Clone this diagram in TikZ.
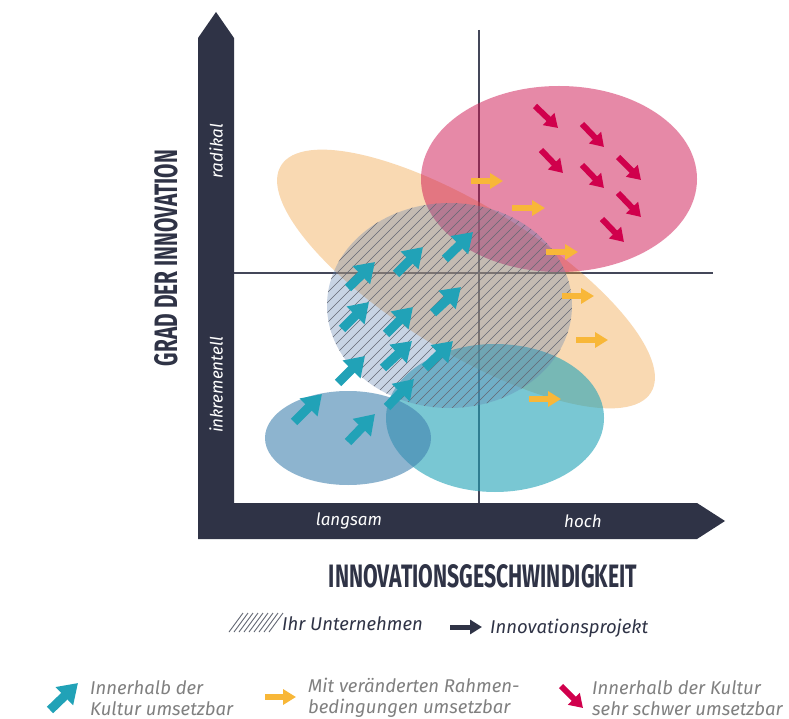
\documentclass[tikz,border=0pt]{standalone}
\usepackage{fontspec}
\setmainfont{Fira Sans}
\usetikzlibrary{arrows.meta}
\definecolor{navy}{HTML}{2F3346}
\definecolor{tealc}{RGB}{33,162,183}
\definecolor{steelc}{RGB}{65,130,175}
\definecolor{pinkc}{RGB}{207,21,81}
\definecolor{pinkarrow}{RGB}{208,0,76}
\definecolor{orangefill}{RGB}{240,160,64}
\definecolor{orangearrow}{RGB}{248,183,56}
\definecolor{hatchfill}{RGB}{98,132,178}
\definecolor{hatchline}{RGB}{100,104,116}
\definecolor{legendgrey}{RGB}{128,128,128}
\tikzset{
  teal arrow/.style={draw=tealc, line width=9pt, -{Triangle[width=24pt,length=19pt]}},
  pink arrow/.style={draw=pinkarrow, line width=6pt, -{Triangle[width=16pt,length=13pt]}},
  orange arrow/.style={draw=orangearrow, line width=5.5pt, -{Triangle[width=15pt,length=13pt]}},
  dark arrow/.style={draw=navy, line width=5pt, -{Triangle[width=14pt,length=12pt]}},
  quadline/.style={draw=navy!90, line width=1.1pt},
  axislabel/.style={text=white, font=\itshape\fontsize{17}{17}\selectfont, inner sep=0pt},
  legendtext/.style={text=legendgrey, font=\itshape\fontsize{18.5}{21}\selectfont, align=left, anchor=west, inner sep=0pt},
  legend2text/.style={text=navy, font=\itshape\fontsize{18.5}{18}\selectfont, anchor=west, inner sep=0pt},
}
\begin{document}
\begin{tikzpicture}[x=1pt,y=-1pt]
\useasboundingbox[fill=white] (0,0) rectangle (789,719);

% quadrant lines (below the translucent areas)
\draw[quadline] (479,30) -- (479,503);
\draw[quadline] (234,273) -- (713,273);

% areas
\fill[orangefill, opacity=0.4, rotate around={-31.5:(466,279)}] (466,279) ellipse [x radius=217, y radius=73];
\fill[tealc, opacity=0.6] (495,418) ellipse [x radius=109, y radius=74];
\fill[steelc, opacity=0.6] (348,438) ellipse [x radius=83, y radius=47];
\fill[pinkc, opacity=0.5] (559,179) ellipse [x radius=138, y radius=93];
\fill[hatchfill, opacity=0.35] (449.5,305.5) ellipse [x radius=122.5, y radius=102.5];
\begin{scope}
  \clip (449.5,305.5) ellipse [x radius=122.5, y radius=102.5];
  \foreach \k in {590,600,...,930} {
    \draw[hatchline, line width=0.6pt] (\k-190,190) -- (\k-420,420);
  }
\end{scope}

% axes
\fill[navy] (198,539) -- (198,38) -- (216,12) -- (234,38) -- (234,503) -- (697,503) -- (725,521) -- (697,539) -- cycle;
\node[axislabel, rotate=90] (radikal) at (216,151) {radikal};
\node[axislabel, rotate=90] (inkr) at (216,385) {inkrementell};
\node[axislabel] (langsam) at (349,521) {langsam};
\node[axislabel] (hoch) at (583,521) {hoch};

% axis titles
\node[text=navy, inner sep=0pt, rotate=90] (ytitle) at (166,258)
  {\resizebox{216pt}{23pt}{\bfseries GRAD DER INNOVATION}};
\node[text=navy, inner sep=0pt] (xtitle) at (483,576)
  {\resizebox{308pt}{23pt}{\bfseries INNOVATIONSGESCHWINDIGKEIT}};

% teal arrows
\foreach \ax/\ay/\bx/\by in {348/288/375/262, 396/274/423/247, 445/259/473/232,
  342/329/369/302, 386/334/413/307, 433/313/461/287, 383/368/412/341,
  425/368/453/341, 338/383/365/356, 387/407/414/379, 294/422/322/394, 348/442/375/414}
  \draw[teal arrow] (\ax,\ay) -- (\bx,\by);

% pink arrows
\foreach \ax/\ay/\bx/\by in {535/106/558/128, 582/124/604/147, 541/150/563/173,
  582/165/604/188, 618/157/641/180, 618/193/641/217, 602/219/624/242}
  \draw[pink arrow] (\ax,\ay) -- (\bx,\by);

% orange arrows
\foreach \ax/\ay/\bx/\by in {471/181/503/181, 512/208/545/208, 546/252/578/252,
  562/296/594/296, 576/340/608/340, 529/399/561/399}
  \draw[orange arrow] (\ax,\ay) -- (\bx,\by);

% legend row 1
\foreach \i in {0,...,8}
  \draw[hatchline, line width=0.9pt] (229+5*\i,632) -- (243+5*\i,613);
\node[legend2text] (unternehmen) at (282,624) {Ihr Unternehmen};
\coordinate (da) at (450,627);
\coordinate (db) at (482,627);
\draw[dark arrow] (da) -- (db);
\node[legend2text] (projekt) at (490,628) {Innovationsprojekt};

% legend row 2
\draw[teal arrow] (50,710) -- (78,683);
\node[legendtext] (l1) at (90,698) {Innerhalb der\\Kultur umsetzbar};
\draw[orange arrow] (265,697) -- (296,697);
\node[legendtext] (l2) at (308,698) {Mit veränderten Rahmen-\\bedingungen umsetzbar};
\draw[pink arrow] (561,686) -- (583,708);
\node[legendtext] (l3) at (592,698) {Innerhalb der Kultur\\sehr schwer umsetzbar};
\end{tikzpicture}
\end{document}
